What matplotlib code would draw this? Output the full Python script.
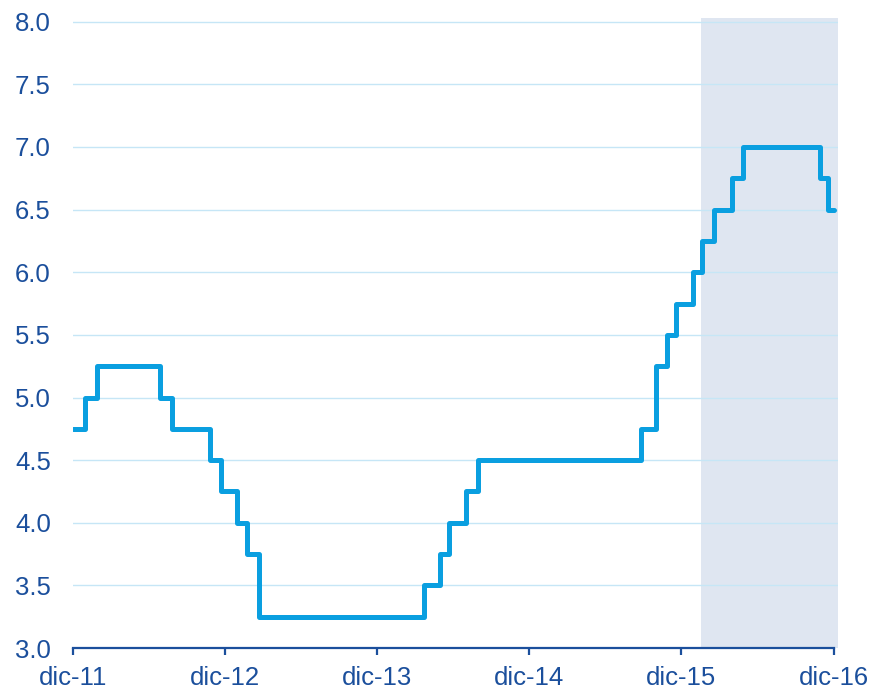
import pandas as pd
import matplotlib
matplotlib.use("Agg")
import matplotlib.pyplot as plt
import matplotlib.dates as mdates

plt.rcParams['font.family'] = ['Liberation Sans', 'DejaVu Sans']

# policy rate: dates where the level changes, and the new level
change_dates = ['2011-12-31', '2012-01-28', '2012-02-26', '2012-07-27', '2012-08-24',
                '2012-11-23', '2012-12-21', '2013-01-28', '2013-02-22', '2013-03-22',
                '2014-04-23', '2014-05-30', '2014-06-20', '2014-07-31', '2014-08-29',
                '2015-09-25', '2015-10-30', '2015-11-27', '2015-12-19', '2016-01-29',
                '2016-02-19', '2016-03-18', '2016-04-30', '2016-05-27', '2016-11-27',
                '2016-12-17', '2016-12-31']
rate = [4.75, 5.00, 5.25, 5.00, 4.75,
        4.50, 4.25, 4.00, 3.75, 3.25,
        3.50, 3.75, 4.00, 4.25, 4.50,
        4.75, 5.25, 5.50, 5.75, 6.00,
        6.25, 6.50, 6.75, 7.00, 6.75,
        6.50, 6.50]

tick_dates = ['2011-12-31', '2012-12-31', '2013-12-31', '2014-12-31', '2015-12-31', '2016-12-31']
tick_labels = ['dic-11', 'dic-12', 'dic-13', 'dic-14', 'dic-15', 'dic-16']
shade_span = ['2016-02-15', '2017-01-10']

line_col = '#0A9FE0'
text_col = '#1B4F9C'
grid_col = '#C6E6F6'
shade_col = '#DFE6F1'

x = mdates.date2num(pd.to_datetime(change_dates))
ticks = mdates.date2num(pd.to_datetime(tick_dates))
shade = mdates.date2num(pd.to_datetime(shade_span))

fig = plt.figure(figsize=(8.72, 6.91), dpi=100)
ax = fig.add_axes([0.0837, 0.0622, 0.8773, 0.9118])

ax.axvspan(shade[0], shade[1], color=shade_col, zorder=0, lw=0)
ax.step(x, rate, where='post', color=line_col, lw=3.6, zorder=3,
        solid_joinstyle='round', solid_capstyle='round')

ax.set_xlim(ticks[0], shade[1])
ax.set_ylim(3.0, 8.03)
ax.set_yticks([3.0, 3.5, 4.0, 4.5, 5.0, 5.5, 6.0, 6.5, 7.0, 7.5, 8.0])
ax.set_yticklabels([f'{v:.1f}' for v in ax.get_yticks()])
ax.set_xticks(ticks)
ax.set_xticklabels(tick_labels)

ax.grid(axis='y', color=grid_col, lw=1.0, zorder=1)
ax.set_axisbelow(True)
for s in ['left', 'right', 'top']:
    ax.spines[s].set_visible(False)
ax.spines['bottom'].set_color(text_col)
ax.spines['bottom'].set_linewidth(1.6)
ax.spines['bottom'].set_zorder(4)
ax.spines['bottom'].set_bounds(ticks[0], ticks[-1])

ax.tick_params(axis='x', direction='out', length=5, width=1.6, color=text_col,
               labelcolor=text_col, labelsize=18.5, pad=8)
ax.tick_params(axis='y', length=0, labelcolor=text_col, labelsize=18.5, pad=16)

fig.savefig('out.png', dpi=100)
